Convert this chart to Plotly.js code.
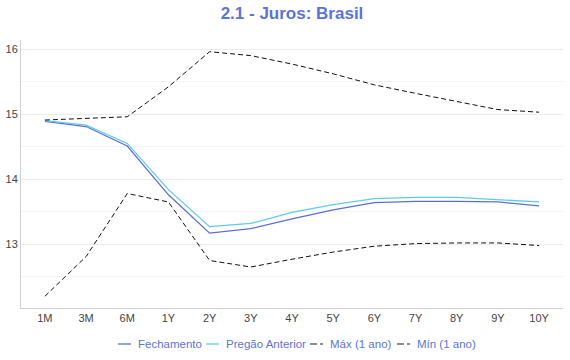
<!DOCTYPE html>
<html>
<head>
<meta charset="utf-8">
<script src="https://cdn.plot.ly/plotly-3.0.1.min.js"></script>
<style>html,body{margin:0;padding:0;background:#fff;}#chart{width:570px;height:360px;}</style>
</head>
<body>
<div id="chart"></div>
<script>
const categories = ["1M","3M","6M","1Y","2Y","3Y","4Y","5Y","6Y","7Y","8Y","9Y","10Y"];
const seriesNames = ["Fechamento", "Pregão Anterior", "Máx (1 ano)", "Mín (1 ano)"];
const fechamento = [14.89,14.81,14.51,13.76,13.17,13.24,13.39,13.53,13.64,13.66,13.66,13.65,13.59];
const pregaoAnterior = [14.90,14.83,14.55,13.84,13.27,13.32,13.49,13.61,13.70,13.72,13.72,13.69,13.65];
const maxAno = [14.91,14.94,14.96,15.42,15.96,15.90,15.77,15.62,15.45,15.32,15.19,15.07,15.03];
const minAno = [12.20,12.81,13.78,13.65,12.75,12.65,12.77,12.88,12.97,13.01,13.02,13.02,12.98];

const colors = ["#5b6fd6", "#5fcbe8", "#111111", "#111111"];
const dashes = ["solid", "solid", "5px,3px", "5px,3px"];
const widths = [1.3, 1.3, 1, 1];
const values = [fechamento, pregaoAnterior, maxAno, minAno];

const traces = values.map((v, i) => ({
  x: categories, y: v, name: seriesNames[i], type: "scatter", mode: "lines",
  line: {color: colors[i], width: widths[i], dash: dashes[i]}, showlegend: false
}));

// custom compact legend (short symbols like the reference)
const plotL = 21, plotW = 542, plotB = 308, plotH = 268;
const px = x => (x - plotL) / plotW;
const legY = (plotB - 344) / plotH;
const symStart = [118, 206, 310, 397];
const symLen = 13;
const shapes = [], annotations = [];
seriesNames.forEach((n, i) => {
  shapes.push({type: "line", xref: "paper", yref: "paper",
    x0: px(symStart[i]), x1: px(symStart[i] + symLen), y0: legY, y1: legY,
    line: {color: i < 2 ? colors[i] : "#222", width: i < 2 ? 1.3 : 1.2, dash: i < 2 ? "solid" : "7px,3px"}});
  annotations.push({xref: "paper", yref: "paper", x: px(symStart[i] + symLen + 5), y: legY,
    xanchor: "left", yanchor: "middle", showarrow: false, text: n,
    font: {size: 11.5, color: "#5b74d6", family: "Liberation Sans, Arial, sans-serif"}});
});

const layout = {
  width: 570, height: 360,
  margin: {l: 21, r: 7, t: 40, b: 52, autoexpand: false},
  paper_bgcolor: "#fff", plot_bgcolor: "#fff",
  font: {family: "Liberation Sans, Arial, sans-serif", size: 11, color: "#444"},
  title: {text: "<b>2.1 - Juros: Brasil</b>", xref: "paper", x: 0.5, xanchor: "center", y: 0.963, yanchor: "middle",
          font: {size: 17, color: "#5b74d6", family: "Liberation Sans, Arial, sans-serif"}},
  showlegend: false,
  shapes: shapes,
  annotations: annotations,
  xaxis: {type: "category", range: [-0.58, 12.58], showgrid: false, zeroline: false,
          showline: true, linecolor: "#d0d0d0", linewidth: 1, ticks: "", fixedrange: true,
          tickfont: {size: 11, color: "#444"}},
  yaxis: {range: [12.02, 16.14], dtick: 1, tick0: 0, showgrid: true, gridcolor: "#ececec", gridwidth: 1,
          zeroline: false, showline: true, linecolor: "#d0d0d0", linewidth: 1, ticks: "",
          tickfont: {size: 11, color: "#444"},
          minor: {dtick: 0.5, showgrid: true, gridcolor: "#f3f3f3", gridwidth: 1}}
};

Plotly.newPlot("chart", traces, layout, {displayModeBar: false, staticPlot: true});
</script>
</body>
</html>
